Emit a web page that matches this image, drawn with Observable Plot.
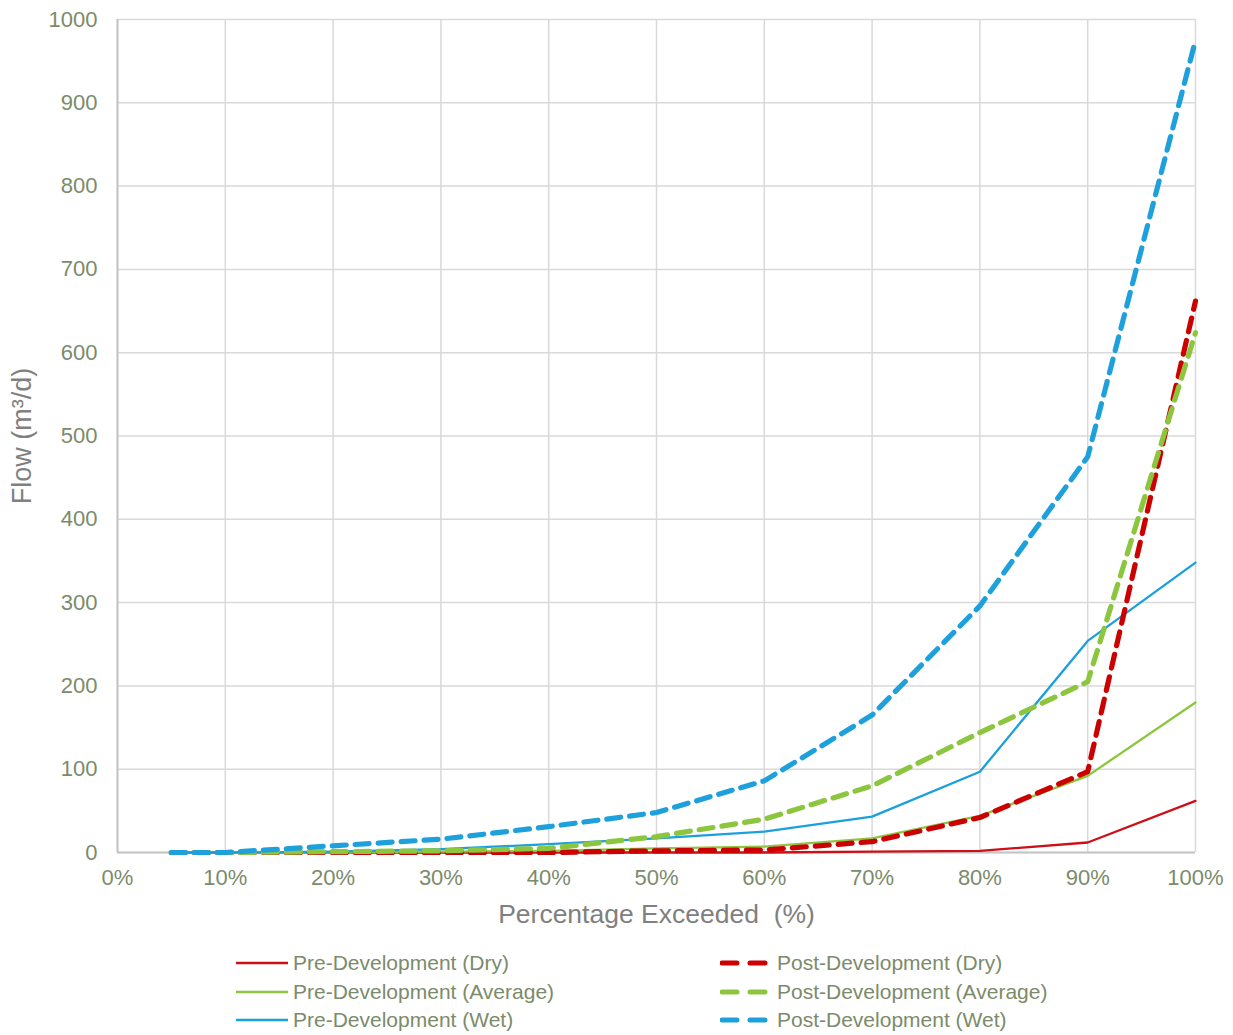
<!DOCTYPE html>
<html>
<head>
<meta charset="utf-8">
<script src="https://cdn.jsdelivr.net/npm/d3@7"></script>
<script src="https://cdn.jsdelivr.net/npm/@observablehq/plot@0.6"></script>
<style>
  html, body { margin: 0; padding: 0; background: #fff; }
  #wrap { position: relative; width: 1233px; height: 1035px; font-family: "Liberation Sans", Arial, sans-serif; }
  .leg { position: absolute; display: flex; align-items: center; height: 28px; font-size: 21px; color: #7b8b6b; white-space: nowrap; }
  .leg svg { margin-right: 5px; }
</style>
</head>
<body>
<div id="wrap"></div>
<script>
// ---- data ----
const pctExceeded = [5, 10, 20, 30, 40, 50, 60, 70, 80, 90, 100];
const preDry  = [0, 0, 0, 0, 0, 0, 0, 1, 2, 12, 62];
const preAvg  = [0, 0, 0, 1, 2, 5, 7, 17, 44, 92, 180];
const preWet  = [0, 0, 1, 4, 10, 17, 25, 43, 97, 254, 348];
const postDry = [0, 0, 0, 0, 0, 2, 3, 13, 42, 97, 662];
const postAvg = [0, 0, 1, 2, 5, 19, 40, 80, 144, 205, 624];
const postWet = [0, 0, 8, 16, 31, 48, 86, 165, 296, 475, 975];

const seriesNames = [
  "Pre-Development (Dry)", "Pre-Development (Average)", "Pre-Development (Wet)",
  "Post-Development (Dry)", "Post-Development (Average)", "Post-Development (Wet)"
];
const seriesValues = [preDry, preAvg, preWet, postDry, postAvg, postWet];
const seriesColors = ["#cc1018", "#8cc63e", "#1aa0dc", "#cc0000", "#8cc63e", "#1ea0dc"];
const seriesDashed = [false, false, false, true, true, true];

const xTicks = [0, 10, 20, 30, 40, 50, 60, 70, 80, 90, 100];
const yTicks = [0, 100, 200, 300, 400, 500, 600, 700, 800, 900, 1000];

const rows = [];
seriesNames.forEach((name, i) => {
  seriesValues[i].forEach((v, j) => rows.push({series: name, x: pctExceeded[j], y: v}));
});

const solidNames = seriesNames.filter((_, i) => !seriesDashed[i]);
const dashNames = seriesNames.filter((_, i) => seriesDashed[i]);

const tickColor = "#7b8b6b";
const titleColor = "#808080";

const chart = Plot.plot({
  width: 1233,
  height: 940,
  marginLeft: 117,
  marginRight: 38,
  marginTop: 19,
  marginBottom: 88,
  style: {fontFamily: "'Liberation Sans', Arial, sans-serif", fontSize: "22px", color: tickColor, background: "#fff"},
  x: {domain: [0, 100], ticks: xTicks},
  y: {domain: [0, 1000], ticks: yTicks},
  color: {domain: seriesNames, range: seriesColors},
  marks: [
    Plot.gridX(xTicks, {stroke: "#d9d9d9", strokeOpacity: 1, strokeWidth: 1.5}),
    Plot.gridY(yTicks, {stroke: "#d9d9d9", strokeOpacity: 1, strokeWidth: 1.5}),
    Plot.ruleX([0], {stroke: "#c4c4c4", strokeWidth: 2}),
    Plot.ruleY([0], {stroke: "#c4c4c4", strokeWidth: 2}),
    Plot.axisX(xTicks, {tickSize: 0, tickPadding: 17, tickFormat: d => d + "%", label: null, fontSize: 22, fill: tickColor}),
    Plot.axisY(yTicks, {tickSize: 0, tickPadding: 20, tickFormat: d => String(d), label: null, fontSize: 22, fill: tickColor}),
    Plot.line(rows.filter(d => solidNames.includes(d.series)), {
      x: "x", y: "y", z: "series", stroke: "series", strokeWidth: 2.3
    }),
    Plot.line(rows.filter(d => dashNames.includes(d.series)), {
      x: "x", y: "y", z: "series", stroke: "series", strokeWidth: 5.2, strokeDasharray: "14,9"
    }),
    Plot.text(["Percentage Exceeded  (%)"], {
      frameAnchor: "bottom", textAnchor: "middle", dy: 70, fontSize: 26.5, fill: titleColor, letterSpacing: 0.3,
      style: {whiteSpace: "pre"}
    }),
    Plot.text(["Flow (m³/d)"], {
      frameAnchor: "left", textAnchor: "middle", dx: -95, rotate: -90, fontSize: 27, fill: titleColor, letterSpacing: 1
    })
  ]
});

const wrap = document.getElementById("wrap");
wrap.appendChild(chart);
chart.querySelectorAll("text").forEach(t => t.setAttribute("xml:space", "preserve"));

// ---- legend (HTML, below the SVG) ----
function sample(color, dashed) {
  const ns = "http://www.w3.org/2000/svg";
  const s = document.createElementNS(ns, "svg");
  s.setAttribute("width", 52);
  s.setAttribute("height", 10);
  const l = document.createElementNS(ns, "line");
  l.setAttribute("x1", dashed ? 2 : 0); l.setAttribute("x2", 52);
  l.setAttribute("y1", 5); l.setAttribute("y2", 5);
  l.setAttribute("stroke", color);
  l.setAttribute("stroke-width", dashed ? 5 : 2.5);
  if (dashed) { l.setAttribute("stroke-dasharray", "15,13"); l.setAttribute("stroke-linecap", "round"); }
  s.appendChild(l);
  return s;
}
seriesNames.forEach((name, i) => {
  const col = seriesDashed[i] ? 1 : 0;
  const row = i % 3;
  const div = document.createElement("div");
  div.className = "leg";
  div.style.left = (col ? 720 : 236) + "px";
  div.style.top = (949 + row * 28.5) + "px";
  div.appendChild(sample(seriesColors[i], seriesDashed[i]));
  const span = document.createElement("span");
  span.textContent = name;
  div.appendChild(span);
  wrap.appendChild(div);
});
</script>
</body>
</html>
